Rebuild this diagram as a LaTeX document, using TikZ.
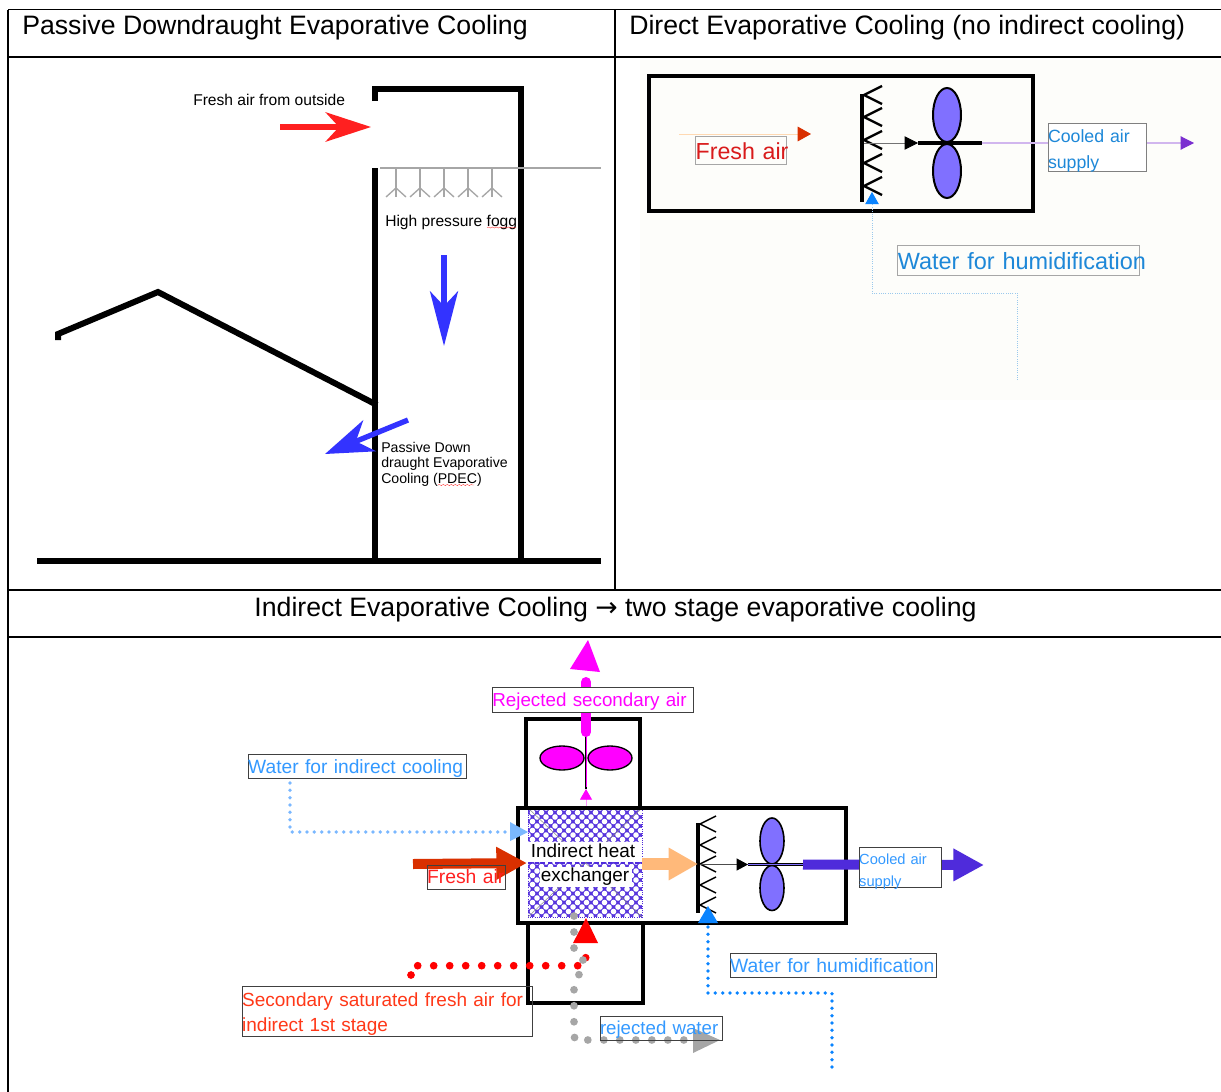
\documentclass[tikz,border=0pt]{standalone}
\usepackage{fontspec}
\setmainfont{Liberation Sans}
\newfontfamily\arrowfont{DejaVu Sans}
\usepackage{tikz}
\usetikzlibrary{arrows.meta,decorations.pathmorphing}
\definecolor{freshred}{HTML}{FF2020}
\definecolor{freshdark}{HTML}{D93000}
\definecolor{skyblue}{HTML}{1E88D8}
\definecolor{waterblue}{HTML}{0A84FF}
\definecolor{labelblue}{HTML}{3399FF}
\definecolor{paleblue}{HTML}{7AB8FF}
\definecolor{coolviolet}{HTML}{4F2BDB}
\definecolor{tipviolet}{HTML}{7B2FD0}
\definecolor{lobeviolet}{HTML}{8070FF}
\definecolor{pastry}{HTML}{FFB97A}
\definecolor{magentaair}{HTML}{FF00FF}
\definecolor{arrowblue}{HTML}{3333FF}
\definecolor{offwhite}{HTML}{FDFDFA}
\newcommand{\droptext}[2][1.5pt]{\raisebox{-#1}[\height][\depth]{\mbox{#2}}}
\tikzset{
  title/.style={font=\fontsize{20}{23}\selectfont},
  note/.style={font=\fontsize{11.7}{11.7}\selectfont, align=left, inner sep=0pt, anchor=west},
  labelbox/.style={draw=#1, inner sep=0pt, align=left, line width=0.6pt},
  labelbox/.default=black!75,
  wall/.style={line width=4.5pt, line join=miter, line cap=butt},
  casing/.style={line width=3pt},
  grid line/.style={line width=0.8pt},
  fog/.style={draw=black!35, line width=1pt},
  bigdots/.style={line width=5.8pt, line cap=round, dash pattern=on 0pt off 12pt},
  smalldots/.style={line width=2.8pt, line cap=round, dash pattern=on 0pt off 5.5pt},
  squiggle/.style={red!80, line width=0.3pt, decorate, decoration={snake, amplitude=0.4pt, segment length=3pt}}
}
\begin{document}
\begin{tikzpicture}[x=0.75pt,y=-0.75pt]
  \useasboundingbox (0,0) rectangle (1221,1092);
  \fill[white] (0,0) rectangle (1221,1092);
  \fill[offwhite] (640,60) rectangle (1221,400);

  \draw[grid line] (8,9.5) -- (1221,9.5);
  \draw[grid line] (8,57) -- (1221,57);
  \draw[grid line] (8,590) -- (1221,590);
  \draw[grid line] (8,637) -- (1221,637);
  \draw[grid line] (8,9.5) -- (8,1092);
  \draw[grid line] (615,9.5) -- (615,590);

  \node[title, inner sep=0pt, anchor=west] (PassiveTitle) at (22,27.5) {Passive Downdraught Evaporative Cooling};
  \node[title, inner sep=0pt, anchor=west] (DirectTitle) at (629,27.5) {Direct Evaporative Cooling (no indirect cooling)};
  \node[title, inner sep=0pt] (IndirectTitle) at (615.5,609.5) {Indirect Evaporative Cooling {\arrowfont\fontsize{20}{23}\selectfont →} two stage evaporative cooling};

  % passive downdraught
  \draw[wall] (375,101) -- (375,89) -- (521,89) -- (521,561);
  \draw[wall] (375,168) -- (375,561);
  \draw[wall] (37,561) -- (601,561);
  \draw[wall] (58,340) -- (58,334) -- (158,292) -- (377,405);
  \draw[draw=black!35, line width=1pt] (380,168) -- (601,168);
  \foreach \nx in {396,420,444,468,492} {
    \draw[fog] (\nx,168) -- (\nx,197);
    \draw[fog] (\nx-10,197) -- (\nx,188) -- (\nx+10,197);
  }
  \node[note] (FreshOutside) at (193,100) {Fresh air from outside};
  \node[note] (Fogg) at (385,222) {High pressure fogg};
  \node[note, font=\fontsize{10.6}{11.7}\selectfont] (Pdec) at (381,464) {Passive Down\\draught Evaporative\\Cooling (PDEC)};
  \draw[squiggle] (487,227.5) -- (516,227.5);
  \draw[squiggle] (438,485) -- (474,485);

  \coordinate (InletTail) at (280,127);
  \coordinate (InletTip) at (371,127);
  \coordinate (DownTail) at (444,255);
  \coordinate (DownTip) at (444,346);
  \coordinate (RoomTail) at (408,420);
  \coordinate (RoomTip) at (325,454);
  \draw[-{Stealth[length=34pt,width=22pt,inset=10pt]}, freshred, line width=4pt] (InletTail) -- (InletTip);
  \draw[-{Stealth[length=41pt,width=21pt,inset=11pt]}, arrowblue, line width=4pt] (DownTail) -- (DownTip);
  \draw[-{Stealth[length=36pt,width=25pt,inset=11pt]}, arrowblue, line width=4pt] (RoomTail) -- (RoomTip);

  % direct evaporative
  \draw[casing] (649,76) rectangle (1033,211);
  \draw[line width=2.6pt] (862,94) -- (862,202);
  \foreach \cy in {95,117,140,163,186} {
    \draw[line width=1.7pt] (882,\cy-9) -- (864,\cy) -- (882,\cy+9);
  }
  \draw[fill=lobeviolet, draw=black, line width=1.5pt] (947,115) ellipse (14 and 27);
  \draw[fill=lobeviolet, draw=black, line width=1.5pt] (947,171) ellipse (14 and 27);
  \coordinate (PadOut) at (864,143);
  \coordinate (ShaftIn) at (918,143);
  \coordinate (ShaftOut) at (982,143);
  \coordinate (SupplyTip) at (1194,143);
  \coordinate (FreshTail) at (679,134);
  \coordinate (FreshTip) at (811,134);
  \draw[line width=3pt] (ShaftIn) -- (ShaftOut);
  \draw[black!55, line width=0.6pt, arrows={-{Triangle[length=10pt,width=10pt,color=black]}}] (PadOut) -- (ShaftIn);
  \draw[tipviolet!35, line width=0.8pt, arrows={-{Triangle[length=10pt,width=10pt,color=tipviolet]}}] (ShaftOut) -- (SupplyTip);
  \draw[orange!30, line width=0.7pt, arrows={-{Triangle[length=10pt,width=11pt,color=freshdark]}}] (FreshTail) -- (FreshTip);
  \coordinate (WaterEnd) at (1017,380);
  \coordinate (PadFoot) at (872,192);
  \draw[skyblue!45, line width=0.7pt, densely dotted, arrows={-{Triangle[length=9pt,width=10pt,color=waterblue]}}] (WaterEnd) -- (1017,293) -- (872,293) -- (PadFoot);
  \node[labelbox=black!35, text=freshred!85!black, text width=68pt, minimum height=21pt, font=\fontsize{17.4}{20}\selectfont] (FreshBox) at (741,150.5) {\droptext[0.7pt]{Fresh air}};
  \node[labelbox=black!50, text=skyblue, text width=73.5pt, minimum height=36pt, font=\fontsize{13.3}{19.5}\selectfont, fill=white] (CooledBox) at (1097,147) {\droptext[3pt]{Cooled air}\\\droptext[3pt]{supply}};
  \node[labelbox=black!35, text=skyblue, text width=181pt, minimum height=22pt, font=\fontsize{17.6}{20}\selectfont] (WaterBox) at (1018.5,260.5) {\droptext[0.7pt]{Water for humidification}};

  % indirect evaporative
  \begin{scope}
    \clip (528,808) rectangle (642,917);
    \fill[coolviolet!95] (528,808) rectangle (642,917);
    \foreach \hi in {0,...,13} {
      \foreach \hj in {0,...,13} {
        \fill[white] (528+9*\hi,808+9*\hj) circle (2.1pt);
        \fill[white] (532.5+9*\hi,812.5+9*\hj) circle (2.1pt);
      }
    }
    \draw[black!45, line width=0.4pt] (528,808) -- (642,917);
    \draw[black!45, line width=0.4pt] (528,917) -- (642,808);
  \end{scope}
  \draw[coolviolet, densely dotted, line width=0.7pt] (528,808) rectangle (642,917);
  \fill[white] (528,842) rectangle (642,862);
  \fill[white] (540,867) rectangle (632,887);
  \draw[coolviolet, densely dashed, line width=1pt] (528,863) -- (642,863);
  \node[inner sep=0pt, font=\fontsize{14.2}{16}\selectfont] (HeatText) at (583,851) {Indirect heat};
  \node[inner sep=0pt, font=\fontsize{14.2}{16}\selectfont] (ExchText) at (585,877) {exchanger};

  \draw[casing] (526,807) -- (526,719) -- (640,719) -- (640,807);
  \draw[casing] (518,808) rectangle (846,923);
  \draw[casing] (528,923) -- (528,1003) -- (643,1003) -- (643,923);

  \draw[fill=magentaair, draw=black, line width=1pt] (562,758) ellipse (22 and 12);
  \draw[fill=magentaair, draw=black, line width=1pt] (610,758) ellipse (22 and 12);
  \draw[black, line width=2pt] (586,734) -- (586,789);
  \draw[magentaair, line width=0.7pt] (586,736) -- (586,787);
  \coordinate (FanFoot) at (586,806);
  \coordinate (FanHub) at (586,789);
  \draw[magentaair!40, line width=0.6pt, arrows={-{Triangle[length=8pt,width=9pt,color=magentaair]}}] (FanFoot) -- (FanHub);
  \coordinate (RejectTail) at (586,732);
  \coordinate (RejectTop) at (586,682);
  \coordinate (RejectTip) at (588,640);
  \draw[magentaair, line width=7.5pt, line cap=round] (RejectTail) -- (RejectTop);
  \fill[magentaair] (RejectTip) -- (600,672) -- (570,669) -- cycle;
  \node[labelbox, fill=white, text=magentaair, text width=151pt, minimum height=19pt, font=\fontsize{14.1}{16}\selectfont] (RejectBox) at (593,700) {\droptext{Rejected secondary air}};

  \draw[line width=2.6pt] (698,823) -- (698,913);
  \foreach \cy in {824,845,864,885,905} {
    \draw[line width=1.1pt] (716,\cy-8) -- (700,\cy) -- (716,\cy+8);
  }
  \draw[fill=lobeviolet, draw=black, line width=1.2pt] (772,841) ellipse (12 and 23);
  \draw[fill=lobeviolet, draw=black, line width=1.2pt] (772,888) ellipse (12 and 22.5);
  \coordinate (PadEast) at (700,864.5);
  \coordinate (FanIn) at (748,864.5);
  \coordinate (FanOut) at (803,864.5);
  \draw[black, line width=2pt] (FanIn) -- (FanOut);
  \draw[lobeviolet, line width=0.7pt] (FanIn) -- (FanOut);
  \draw[black!70, line width=0.6pt, arrows={-{Triangle[length=8.5pt,width=9pt,color=black]}}] (PadEast) -- (FanIn);
  \coordinate (SupplyEnd) at (984,865);
  \draw[-{Triangle[length=23pt,width=23pt]}, coolviolet, line width=7.5pt] (FanOut) -- (SupplyEnd);

  \coordinate (ExchEast) at (642,864);
  \coordinate (PadWest) at (698,864);
  \draw[-{Triangle[length=22pt,width=23pt]}, pastry, line width=8.5pt] (ExchEast) -- (PadWest);
  \coordinate (FreshIn) at (413,864);
  \coordinate (ExchWest) at (527,863);
  \draw[-{Triangle[length=23pt,width=23pt]}, freshdark, line width=7.5pt] (FreshIn) -- (ExchWest);

  \coordinate (CoolSource) at (290,783);
  \coordinate (CoolTip) at (528,832);
  \draw[paleblue, smalldots] (CoolSource) -- (290,832) -- (512,832);
  \fill[paleblue] (CoolTip) -- (510,822) -- (510,841) -- cycle;

  \coordinate (HumSource) at (832,1067);
  \coordinate (HumTip) at (708,906);
  \draw[waterblue, smalldots] (HumSource) -- (832,993) -- (708,993) -- (708,925);
  \fill[waterblue] (HumTip) -- (718,923) -- (698,923) -- cycle;

  \coordinate (SecondaryTail) at (411,991);
  \coordinate (SecondaryTip) at (586,918);
  \begin{scope}
    \clip (0,637) rectangle (1221,986);
    \draw[red, bigdots] (SecondaryTail) -- (411,965.7) -- (585.7,965.7) -- (585.7,955);
  \end{scope}
  \fill[red] (SecondaryTip) -- (598,943) -- (573,943) -- cycle;

  \coordinate (GreyTop) at (574,916);
  \coordinate (GreyTip) at (720,1040);
  \draw[black!35, bigdots] (GreyTop) -- (574,952) -- (584,961) -- (574,988) -- (574,1037) -- (581,1043) -- (587,1040) -- (692,1040);
  \fill[black!35] (GreyTip) -- (693,1028) -- (693,1053) -- cycle;

  \node[labelbox, text=labelblue, text width=164pt, minimum height=18.5pt, font=\fontsize{14.4}{16}\selectfont] (IndirectWater) at (357.5,766.5) {\droptext{Water for indirect cooling}};
  \node[labelbox, text=freshred, text width=58.5pt, minimum height=18pt, font=\fontsize{14.5}{16}\selectfont] (FreshAir) at (466,877) {\mbox{Fresh air}};
  \node[labelbox, fill=white, text=labelblue, text width=62pt, minimum height=30.5pt, font=\fontsize{11}{16.5}\selectfont] (CooledAir) at (900.5,867.5) {\droptext[3.5pt]{Cooled air}\\\droptext[3.5pt]{supply}};
  \node[labelbox, text=labelblue, text width=154.5pt, minimum height=18.5pt, font=\fontsize{14.5}{16}\selectfont] (HumWater) at (833,965.5) {\mbox{Water for humidification}};
  \node[labelbox, text=freshred!75!orange, text width=218pt, minimum height=37.5pt, font=\fontsize{14.25}{18.75}\selectfont] (Secondary) at (387.5,1011) {\droptext[2.2pt]{Secondary saturated fresh air for}\\\droptext[2.2pt]{indirect 1st stage}};
  \node[labelbox, text=labelblue, text width=91.5pt, minimum height=18pt, font=\fontsize{14}{16}\selectfont] (RejectWater) at (661,1028) {\droptext{rejected water}};
\end{tikzpicture}
\end{document}
